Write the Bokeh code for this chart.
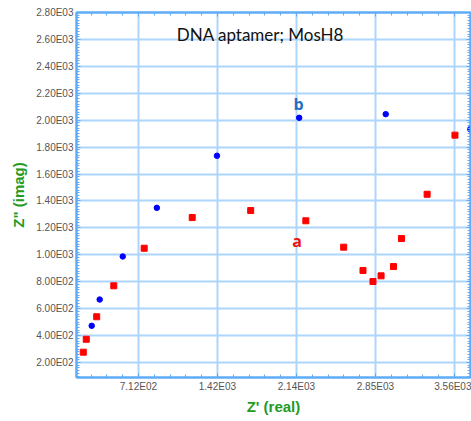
from bokeh.plotting import figure
from bokeh.models import LinearAxis, FixedTicker, Range1d, Label
from bokeh.embed import file_html
from bokeh.resources import INLINE

# --- data ---
a_x = [215, 242, 336, 490, 764, 1197, 1724, 2221, 2562, 2736, 2826, 2899, 3011, 3083, 3314, 3565]
a_y = [277, 373, 540, 770, 1049, 1277, 1329, 1253, 1057, 884, 802, 844, 913, 1121, 1450, 1889]
b_x = [291, 363, 571, 878, 1420, 2161, 2941, 3703]
b_y = [473, 668, 988, 1349, 1736, 2018, 2045, 1933]

x_ticks = [712, 1424, 2136, 2848, 3560]
x_tick_labels = ["7.12E02", "1.42E03", "2.14E03", "2.85E03", "3.56E03"]
y_ticks = [200, 400, 600, 800, 1000, 1200, 1400, 1600, 1800, 2000, 2200, 2400, 2600, 2800]
y_tick_labels = ["2.00E02", "4.00E02", "6.00E02", "8.00E02", "1.00E03", "1.20E03", "1.40E03",
                 "1.60E03", "1.80E03", "2.00E03", "2.20E03", "2.40E03", "2.60E03", "2.80E03"]
x_minor = [142.4 * i for i in range(1, 27)]
y_minor = [20 * i for i in range(1, 141)]

AX = "#5fabf7"
GRID = "#aed5fb"
GREEN = "#239b23"
TICKC = "#555555"

p = figure(width=471, height=421, output_backend="svg", toolbar_location=None,
           x_range=Range1d(154, 3705), y_range=Range1d(89, 2800),
           x_axis_location=None, y_axis_location=None,
           min_border_left=76, min_border_right=1, min_border_top=12, min_border_bottom=44,
           background_fill_color="white", border_fill_color="white",
           outline_line_color=AX, outline_line_width=2)

xt = FixedTicker(ticks=x_ticks, minor_ticks=x_minor)
yt = FixedTicker(ticks=y_ticks, minor_ticks=y_minor)

def style(ax):
    ax.axis_line_color = AX
    ax.axis_line_width = 2
    ax.major_tick_line_color = AX
    ax.minor_tick_line_color = AX
    ax.major_tick_in = 4
    ax.major_tick_out = 0
    ax.minor_tick_in = 3
    ax.minor_tick_out = 0
    ax.major_label_text_font = "Liberation Sans"
    ax.major_label_text_color = TICKC
    ax.major_label_text_font_size = "10px"
    ax.major_label_standoff = 3

bx = LinearAxis(ticker=xt, axis_label="Z' (real)",
                major_label_overrides={t: l for t, l in zip(x_ticks, x_tick_labels)})
style(bx)
bx.axis_label_text_font = "Liberation Sans"
bx.axis_label_text_font_style = "bold"
bx.axis_label_text_font_size = "15px"
bx.axis_label_text_color = GREEN
bx.axis_label_standoff = 3
p.add_layout(bx, "below")

ly = LinearAxis(ticker=yt, axis_label='Z" (imag)',
                major_label_overrides={t: l for t, l in zip(y_ticks, y_tick_labels)})
style(ly)
ly.axis_label_text_font = "Liberation Sans"
ly.axis_label_text_font_style = "bold"
ly.axis_label_text_font_size = "15px"
ly.axis_label_text_color = GREEN
ly.axis_label_standoff = 6
p.add_layout(ly, "left")

# mirrored tick marks on the top and right edges, without labels
tx = LinearAxis(ticker=xt, major_label_overrides={t: "" for t in x_ticks})
style(tx)
tx.major_label_text_font_size = "1px"
tx.major_label_standoff = 0
p.add_layout(tx, "above")
ry = LinearAxis(ticker=yt, major_label_overrides={t: "" for t in y_ticks})
style(ry)
ry.major_label_text_font_size = "1px"
ry.major_label_standoff = 0
p.add_layout(ry, "right")

p.xgrid.ticker = xt
p.ygrid.ticker = yt
p.xgrid.grid_line_color = GRID
p.ygrid.grid_line_color = GRID
p.xgrid.grid_line_width = 2
p.ygrid.grid_line_width = 2

p.scatter(a_x, a_y, marker="square", size=6, color="#ff0000")
p.scatter(b_x, b_y, marker="circle", size=5.5, color="#0000ff")

p.add_layout(Label(x=1811, y=2637, text="DNA aptamer; MosH8", text_font="Lato",
                   text_font_size="17px", text_color="#111111",
                   text_align="center", text_baseline="middle"))
p.add_layout(Label(x=2155, y=2124, text="b", text_font="Open Sans", text_font_style="bold",
                   text_font_size="16px", text_color="#1f6fc4",
                   text_align="center", text_baseline="middle"))
p.add_layout(Label(x=2143, y=1101, text="a", text_font="Open Sans", text_font_style="bold",
                   text_font_size="16px", text_color="#ee1111",
                   text_align="center", text_baseline="middle"))

open("out.html", "w").write(file_html(p, INLINE))
